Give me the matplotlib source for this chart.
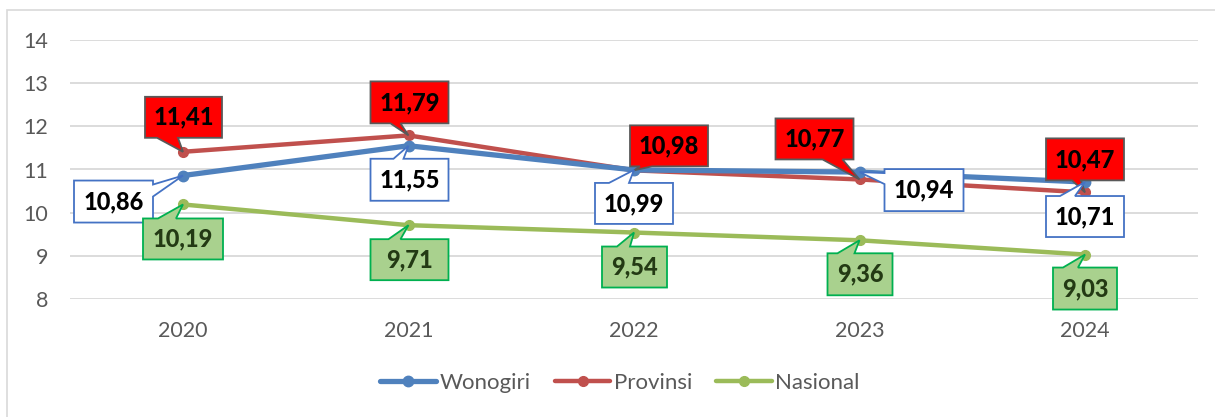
import matplotlib
matplotlib.use('Agg')
import matplotlib.pyplot as plt
import matplotlib.transforms as mtransforms
from matplotlib.patches import Polygon, Rectangle

years = ['2020', '2021', '2022', '2023', '2024']
wonogiri = [10.86, 11.55, 10.99, 10.94, 10.71]
provinsi = [11.41, 11.79, 10.98, 10.77, 10.47]
nasional = [10.19, 9.71, 9.54, 9.36, 9.03]

# callout geometry in pixels relative to the data point (x right, y down):
# (box_left, box_right, box_top, box_bottom, tail_side, tail_a, tail_b)
prov_boxes = [
  (-38, 39, -55, -14, 'bottom', -26, -5),
  (-38, 40, -54, -12, 'bottom', -18, -8),
  (-4, 74, -45, -4, 'bottom', 6, 18),
  (-84, -6, -61, -20, 'bottom', -37, -17),
  (-39, 39, -54, -12, 'bottom', -13, -4),
]
wono_boxes = [
  (-109, -30, 5, 47, 'right', 9, 21),
  (-38, 40, 13, 55, 'top', -15, -5),
  (-39, 39, 13, 54, 'top', -25, -5),
  (25, 104, -3, 39, 'left', 1, 12),
  (-39, 39, 14, 55, 'top', -25, -10),
]
nas_boxes = [
  (-40, 40, 14, 55, 'top', -25, -7),
  (-38, 40, 14, 55, 'top', -20, -8),
  (-32, 33, 14, 55, 'top', -17, -4),
  (-32, 33, 13, 55, 'top', -22, -5),
  (-32, 32, 13, 55, 'top', -22, -7),
]

c_blue = '#4F81BD'
c_red = '#C0504D'
c_green = '#9BBB59'
grey = '#595959'

plt.rcParams['font.family'] = ['Lato', 'DejaVu Sans']

W, H = 1215, 417
fig = plt.figure(figsize=(W / 100, H / 100), dpi=100)
ax = fig.add_axes([70.25 / W, 1 - 299 / H, (1197.75 - 70.25) / W, (299 - 40) / H])

x = list(range(len(years)))
ax.plot(x, wonogiri, color=c_blue, lw=3.8, marker='o', ms=7.5, label='Wonogiri', zorder=4, solid_capstyle='round')
ax.plot(x, provinsi, color=c_red, lw=3.2, marker='o', ms=7, label='Provinsi', zorder=3, solid_capstyle='round')
ax.plot(x, nasional, color=c_green, lw=3.2, marker='o', ms=7, label='Nasional', zorder=3, solid_capstyle='round')

ax.set_xlim(-0.5, len(years) - 0.5)
ax.set_ylim(8, 14)
ax.set_yticks(range(8, 15))
ax.set_xticks(x)
ax.set_xticklabels(years)
ax.grid(axis='y', color='#D9D9D9', lw=1.3, zorder=0)
ax.set_axisbelow(True)
for s in ax.spines.values():
  s.set_visible(False)
ax.tick_params(axis='both', length=0, labelsize=15.5, colors=grey)
ax.tick_params(axis='y', pad=16)
ax.tick_params(axis='x', pad=16)


def callout(xv, yv, geom, fc, ec, tc):
  l, r, t, b, side, a, bb = geom
  if side == 'top':
    pts = [(l, t), (a, t), (0, 0), (bb, t), (r, t), (r, b), (l, b)]
  elif side == 'right':
    pts = [(l, t), (r, t), (r, a), (0, 0), (r, bb), (r, b), (l, b)]
  elif side == 'bottom':
    pts = [(l, t), (r, t), (r, b), (bb, b), (0, 0), (a, b), (l, b)]
  else:
    pts = [(l, t), (r, t), (r, b), (l, b), (l, bb), (0, 0), (l, a)]
  verts = [(px / 100, -py / 100) for px, py in pts]
  trans = fig.dpi_scale_trans + mtransforms.ScaledTranslation(xv, yv, ax.transData)
  poly = Polygon(verts, closed=True, fc=fc, ec=ec, lw=1.3, transform=trans, zorder=6, joinstyle='miter')
  ax.add_patch(poly)
  poly.set_clip_on(False)
  lbl = '{:.2f}'.format(yv).replace('.', ',')
  ax.text((l + r) / 200, -(t + b) / 200, lbl, transform=trans, ha='center', va='center',
          fontsize=17, fontweight='black', color=tc, zorder=7)


for i in x:
  callout(i, provinsi[i], prov_boxes[i], '#FF0000', '#595959', 'black')
  callout(i, wonogiri[i], wono_boxes[i], 'white', '#4472C4', 'black')
  callout(i, nasional[i], nas_boxes[i], '#A9D18E', '#00B050', '#233A14')

leg = fig.legend(loc='center', bbox_to_anchor=(620 / W, 1 - 383 / H), ncol=3, frameon=False,
                 fontsize=16, handlelength=2.5, handletextpad=0.15, columnspacing=1.1, labelcolor=grey)

border = Rectangle((7 / W, -0.1), 1.2, 1 - 10 / H + 0.1, transform=fig.transFigure,
                   fill=False, ec='#D9D9D9', lw=1.2)
fig.patches.append(border)

fig.savefig('out.png', dpi=100)
